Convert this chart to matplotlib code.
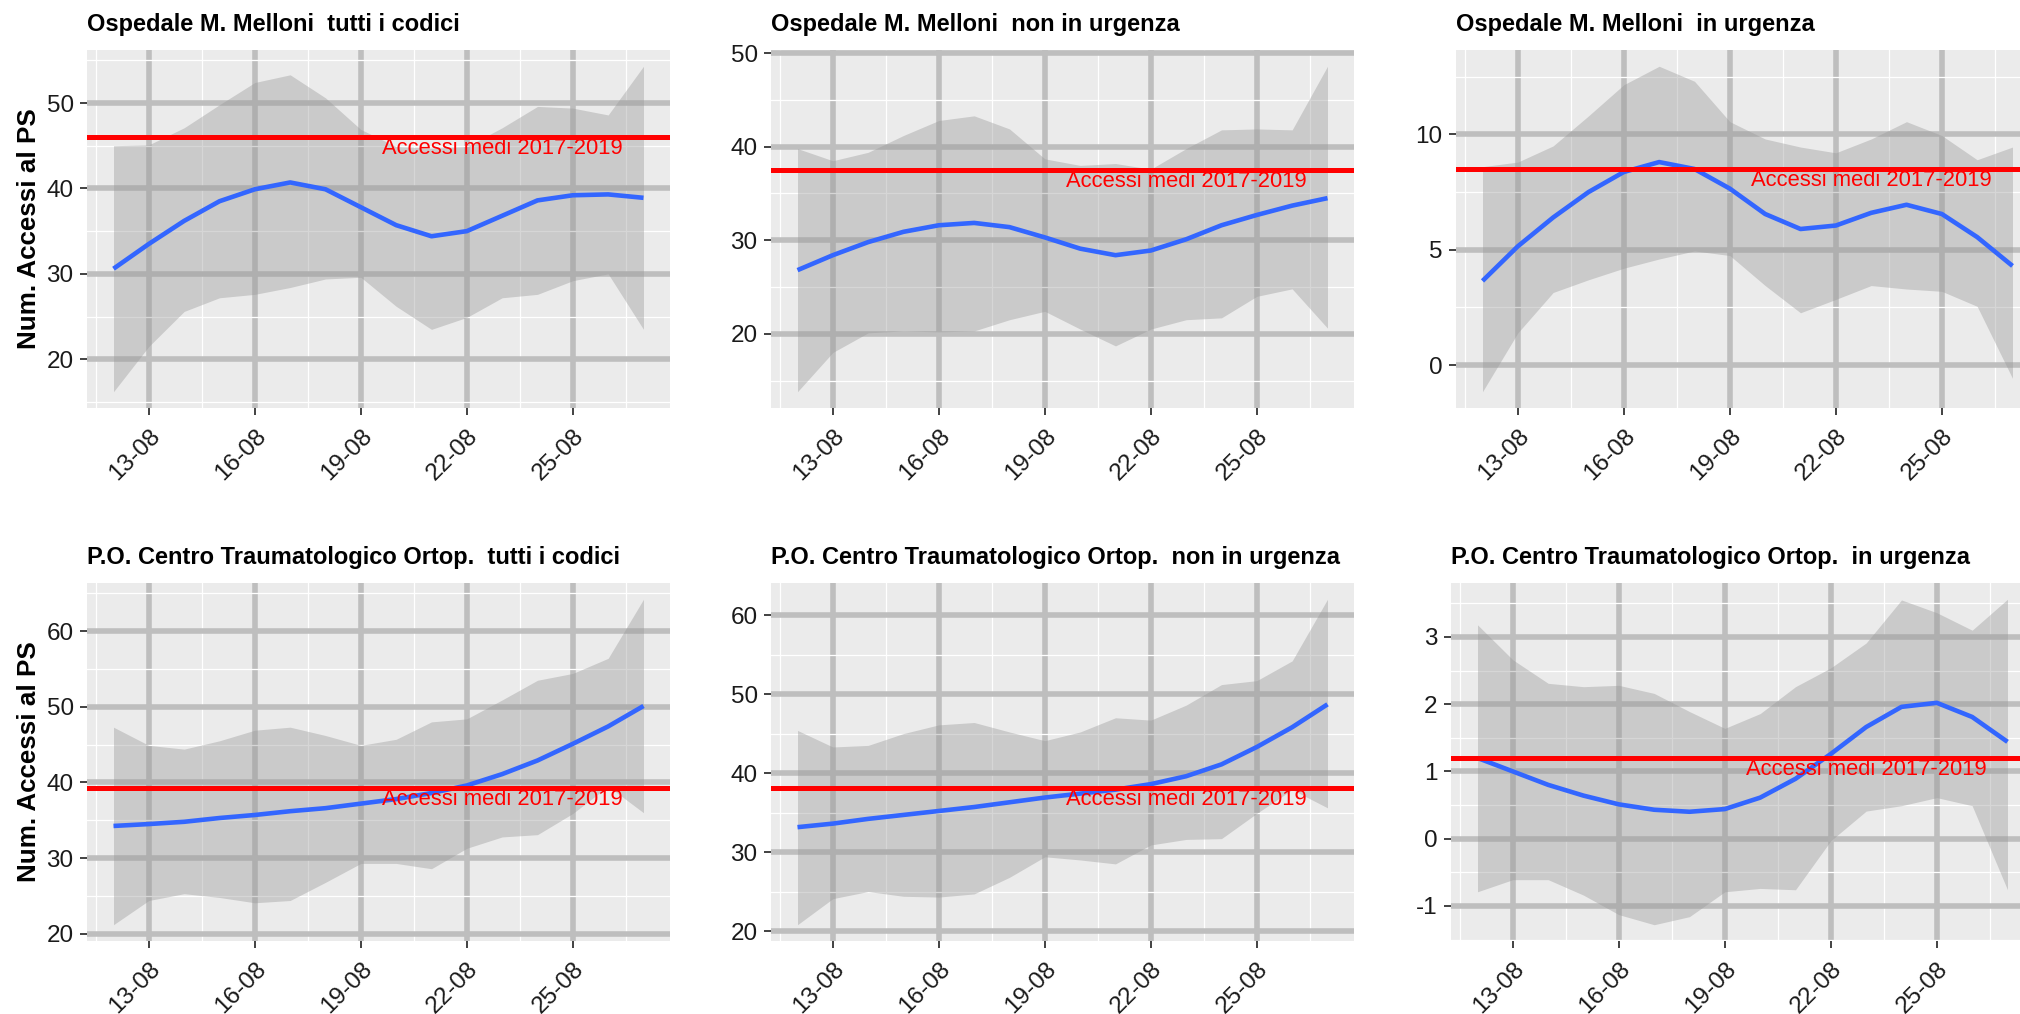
import numpy as np
import matplotlib
matplotlib.use("Agg")
import matplotlib.pyplot as plt
from matplotlib.ticker import MultipleLocator

plt.rcParams['font.family'] = ['Liberation Sans', 'DejaVu Sans']
plt.rcParams['axes.unicode_minus'] = False

# ---------------- data ----------------
dates = ['12-08', '13-08', '14-08', '15-08', '16-08', '17-08', '18-08', '19-08',
         '20-08', '21-08', '22-08', '23-08', '24-08', '25-08', '26-08', '27-08']
tick_labels = ['13-08', '16-08', '19-08', '22-08', '25-08']
label_date = '23-08'
avg_label = 'Accessi medi 2017-2019'
y_title = 'Num. Accessi al PS'

titles = ['Ospedale M. Melloni  tutti i codici',
          'Ospedale M. Melloni  non in urgenza',
          'Ospedale M. Melloni  in urgenza',
          'P.O. Centro Traumatologico Ortop.  tutti i codici',
          'P.O. Centro Traumatologico Ortop.  non in urgenza',
          'P.O. Centro Traumatologico Ortop.  in urgenza']

mel_tutti_fit = [30.6, 33.5, 36.2, 38.5, 39.9, 40.7, 39.9, 37.8, 35.7, 34.4, 35.0, 36.8, 38.6, 39.2, 39.3, 38.9]
mel_tutti_hi = [45.0, 45.1, 47.1, 49.8, 52.4, 53.3, 50.6, 46.9, 44.9, 44.7, 44.9, 47.1, 49.6, 49.4, 48.6, 54.3]
mel_tutti_lo = [16.2, 21.5, 25.6, 27.2, 27.6, 28.4, 29.4, 29.6, 26.2, 23.5, 24.9, 27.2, 27.6, 29.2, 30.0, 23.5]
mel_tutti_avg = 46.0

mel_non_fit = [26.8, 28.4, 29.8, 30.9, 31.6, 31.85, 31.4, 30.3, 29.1, 28.4, 28.9, 30.1, 31.6, 32.7, 33.7, 34.5]
mel_non_hi = [39.8, 38.5, 39.4, 41.2, 42.8, 43.3, 41.9, 38.7, 38.0, 38.2, 37.6, 39.8, 41.8, 41.9, 41.8, 48.6]
mel_non_lo = [13.8, 18.0, 20.1, 20.3, 20.2, 20.3, 21.5, 22.4, 20.5, 18.7, 20.5, 21.5, 21.7, 24.0, 24.8, 20.6]
mel_non_avg = 37.5

mel_urg_fit = [3.65, 5.15, 6.4, 7.5, 8.37, 8.8, 8.5, 7.65, 6.55, 5.9, 6.05, 6.6, 6.95, 6.55, 5.55, 4.3]
mel_urg_hi = [8.6, 8.8, 9.5, 10.8, 12.15, 12.95, 12.3, 10.55, 9.8, 9.45, 9.2, 9.8, 10.55, 9.95, 8.9, 9.45]
mel_urg_lo = [-1.15, 1.4, 3.15, 3.7, 4.2, 4.6, 4.95, 4.75, 3.45, 2.27, 2.85, 3.45, 3.3, 3.2, 2.55, -0.57]
mel_urg_avg = 8.5

cto_tutti_fit = [34.25, 34.5, 34.8, 35.3, 35.7, 36.2, 36.6, 37.2, 37.8, 38.6, 39.6, 41.1, 42.9, 45.1, 47.4, 50.1]
cto_tutti_hi = [47.3, 44.9, 44.4, 45.5, 46.9, 47.3, 46.2, 44.9, 45.7, 48.0, 48.4, 50.9, 53.5, 54.4, 56.4, 64.2]
cto_tutti_lo = [21.2, 24.4, 25.3, 24.8, 24.1, 24.4, 26.8, 29.3, 29.3, 28.6, 31.3, 32.8, 33.1, 35.9, 39.5, 36.0]
cto_tutti_avg = 39.3

cto_non_fit = [33.15, 33.6, 34.2, 34.7, 35.2, 35.7, 36.3, 36.9, 37.4, 37.9, 38.6, 39.6, 41.1, 43.3, 45.8, 48.7]
cto_non_hi = [45.4, 43.3, 43.5, 45.0, 46.1, 46.4, 45.2, 44.1, 45.2, 47.0, 46.7, 48.6, 51.2, 51.7, 54.2, 62.0]
cto_non_lo = [20.8, 24.1, 25.0, 24.4, 24.3, 24.7, 26.8, 29.4, 29.0, 28.5, 30.9, 31.6, 31.7, 34.9, 37.9, 35.6]
cto_non_avg = 38.1

cto_urg_fit = [1.2, 1.0, 0.8, 0.64, 0.51, 0.43, 0.4, 0.44, 0.61, 0.89, 1.26, 1.66, 1.96, 2.02, 1.81, 1.44]
cto_urg_hi = [3.18, 2.66, 2.31, 2.26, 2.28, 2.16, 1.89, 1.64, 1.86, 2.26, 2.54, 2.91, 3.55, 3.36, 3.1, 3.56]
cto_urg_lo = [-0.79, -0.61, -0.61, -0.84, -1.13, -1.28, -1.16, -0.79, -0.74, -0.76, -0.03, 0.41, 0.49, 0.61, 0.49, -0.76]
cto_urg_avg = 1.2

y_steps = [10, 10, 5, 10, 10, 1]

# ---------------- layout ----------------
W, H = 2020, 1014
fig = plt.figure(figsize=(W / 100, H / 100), dpi=100)
fig.patch.set_facecolor('white')

PW, PH = 583, 358
panel_pos = [(87, 50), (771, 50), (1456, 50),
             (87, 583), (771, 583), (1451, 583)]

series = [
    (mel_tutti_fit, mel_tutti_lo, mel_tutti_hi, mel_tutti_avg),
    (mel_non_fit, mel_non_lo, mel_non_hi, mel_non_avg),
    (mel_urg_fit, mel_urg_lo, mel_urg_hi, mel_urg_avg),
    (cto_tutti_fit, cto_tutti_lo, cto_tutti_hi, cto_tutti_avg),
    (cto_non_fit, cto_non_lo, cto_non_hi, cto_non_avg),
    (cto_urg_fit, cto_urg_lo, cto_urg_hi, cto_urg_avg),
]

day = np.array([int(d.split('-')[0]) for d in dates], dtype=float)
tick_days = [int(t.split('-')[0]) for t in tick_labels]
label_day = int(label_date.split('-')[0])

for i, ((fit, lo, hi, avg), title, step) in enumerate(zip(series, titles, y_steps)):
    px, py = panel_pos[i]
    ax = fig.add_axes([px / W, 1 - (py + PH) / H, PW / W, PH / H])
    ax.set_facecolor('#EBEBEB')
    for s in ax.spines.values():
        s.set_visible(False)

    ax.fill_between(day, lo, hi, color='#999999', alpha=0.4, lw=0, zorder=2)
    ax.plot(day, fit, color='#3366FF', lw=3.3, solid_joinstyle='round',
            solid_capstyle='butt', zorder=3)
    ax.axhline(avg, color='red', lw=3.6, zorder=4)
    ax.annotate(avg_label, xy=(label_day, avg), xytext=(0, -8.5),
                textcoords='offset points', ha='center', va='center',
                color='red', fontsize=15.8, zorder=5)

    # scales (ggplot-like 5% expansion)
    xr = day.max() - day.min()
    ax.set_xlim(day.min() - 0.05 * xr, day.max() + 0.05 * xr)
    ymin, ymax = min(lo), max(hi)
    yr = ymax - ymin
    ax.set_ylim(ymin - 0.05 * yr, ymax + 0.05 * yr)

    ax.set_xticks(tick_days, tick_labels)
    ax.xaxis.set_minor_locator(MultipleLocator(1.5, offset=1))
    ax.yaxis.set_major_locator(MultipleLocator(step))
    ax.yaxis.set_minor_locator(MultipleLocator(step / 2))

    ax.set_axisbelow(True)
    ax.grid(which='major', color='#BEBEBE', lw=4)
    ax.grid(which='minor', color='white', lw=0.9)

    ax.tick_params(axis='both', which='major', length=4.8, width=1.3,
                   color='#333333', labelsize=17.5, labelcolor='#1A1A1A')
    ax.tick_params(axis='y', which='major', pad=4.8)
    ax.tick_params(axis='x', which='major', pad=7.4)
    ax.tick_params(which='minor', length=0)
    for lbl in ax.get_xticklabels():
        lbl.set_rotation(45)
        lbl.set_ha('right')
        lbl.set_va('top')
        lbl.set_rotation_mode('anchor')

    ax.set_title(title, loc='left', fontsize=17, fontweight='bold',
                 pad=13.5, color='black')
    if i % 3 == 0:
        ax.set_ylabel(y_title, fontsize=18.7, fontweight='bold', color='black')
        ax.yaxis.set_label_coords((41 - px) / PW, 0.5)

fig.savefig('out.png', dpi=100)
